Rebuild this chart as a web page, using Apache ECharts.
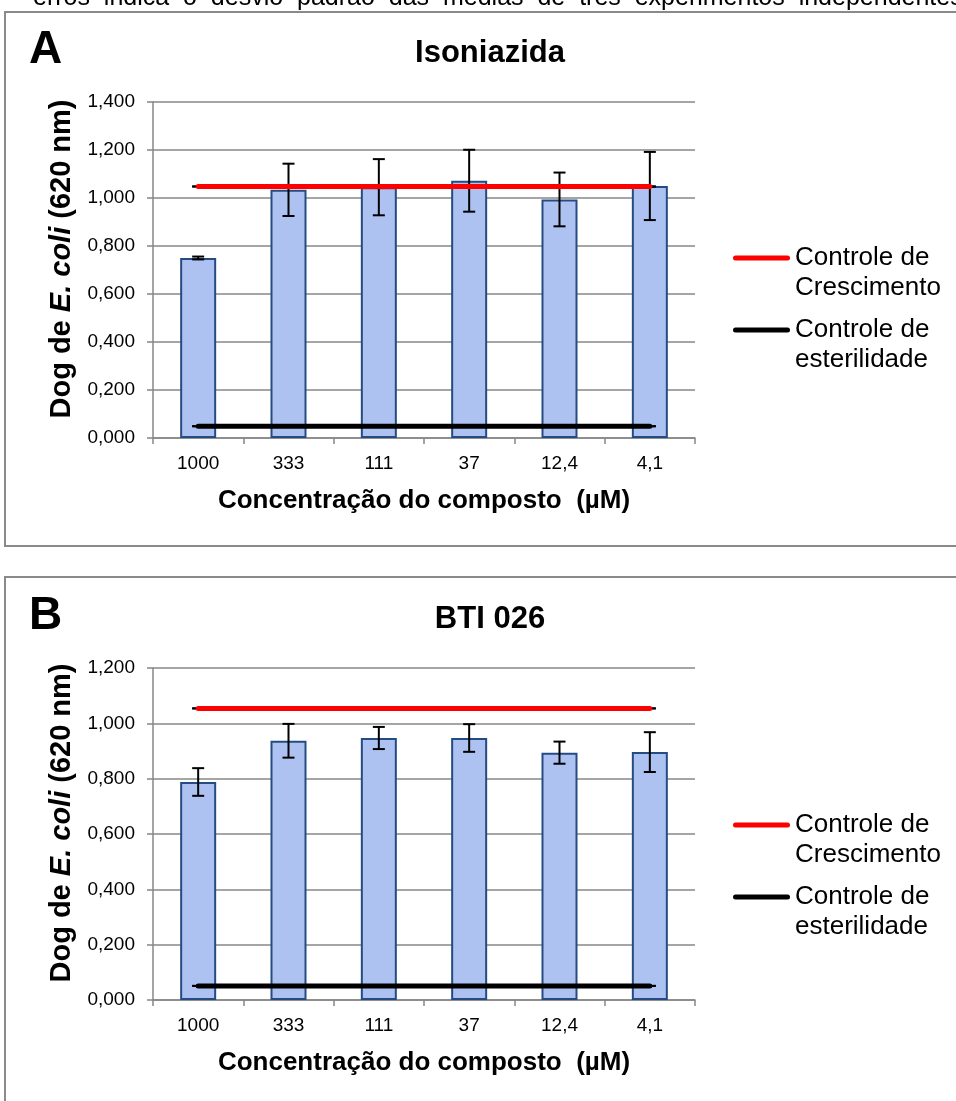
<!DOCTYPE html>
<html><head><meta charset="utf-8">
<script src="https://cdn.jsdelivr.net/npm/echarts@6/dist/echarts.min.js"></script>
<style>html,body{margin:0;padding:0;background:#fff}#c{width:956px;height:1101px}</style>
</head><body><div id="c"></div>
<script>
const FF = '"Liberation Sans", Arial, Helvetica, sans-serif';
const categories = ['1000', '333', '111', '37', '12,4', '4,1'];
const yMaxA = 1.4, yMaxB = 1.2, yStep = 0.2;
// Panel A - Isoniazida
const isoMeans = [0.750, 1.034, 1.045, 1.072, 0.994, 1.050];
const isoErr   = [0.006, 0.109, 0.117, 0.129, 0.112, 0.142];
const isoGrowth = [1.048, 1.048, 1.048, 1.048, 1.048, 1.048];
const isoSteril = [0.049, 0.049, 0.049, 0.049, 0.049, 0.049];
// Panel B - BTI 026
const btiMeans = [0.788, 0.937, 0.947, 0.947, 0.894, 0.896];
const btiErr   = [0.050, 0.061, 0.040, 0.050, 0.040, 0.072];
const btiGrowth = [1.054, 1.054, 1.054, 1.054, 1.054, 1.054];
const btiSteril = [0.051, 0.051, 0.051, 0.051, 0.051, 0.051];

const GRID = '#878787';
const chart = echarts.init(document.getElementById('c'), null, {renderer: 'canvas'});

function errRender(params, api) {
  const x = api.value(0), m = api.value(1), e = api.value(2);
  const hi = api.coord([x, m + e]);
  const lo = api.coord([x, m - e]);
  const w = 6;
  const st = {stroke: '#000', lineWidth: 2};
  return {type: 'group', children: [
    {type: 'line', shape: {x1: hi[0], y1: hi[1], x2: lo[0], y2: lo[1]}, style: st},
    {type: 'line', shape: {x1: hi[0] - w, y1: hi[1], x2: hi[0] + w, y2: hi[1]}, style: st},
    {type: 'line', shape: {x1: lo[0] - w, y1: lo[1], x2: lo[0] + w, y2: lo[1]}, style: st}
  ]};
}
function triples(means, errs) { return means.map((m, i) => [i, m, errs ? errs[i] : 0]); }

function xAxisFor(gi) {
  return {
    type: 'category', gridIndex: gi, data: categories,
    axisLine: {show: true, lineStyle: {color: GRID, width: 1.5}},
    axisTick: {show: true, length: 6, lineStyle: {color: GRID, width: 1.5}},
    axisLabel: {color: '#000', fontSize: 19, fontFamily: FF, margin: 16},
    splitLine: {show: false},
    name: 'Concentração do composto  (µM)', nameLocation: 'middle', nameGap: 50,
    nameTextStyle: {color: '#000', fontSize: 26, fontWeight: 'bold', fontFamily: FF}
  };
}
function yAxisFor(gi, max) {
  return {
    type: 'value', gridIndex: gi, min: 0, max: max, interval: yStep,
    axisLine: {show: true, lineStyle: {color: GRID, width: 1.5}},
    axisTick: {show: true, length: 6, lineStyle: {color: GRID, width: 1.5}},
    splitLine: {show: true, lineStyle: {color: GRID, width: 1.5}},
    axisLabel: {color: '#000', fontSize: 19, fontFamily: FF, margin: 18,
      formatter: v => v.toFixed(3).replace('.', ',')},
    name: '{b|Dog de }{i|E. coli}{b| (620 nm)}', nameLocation: 'middle', nameGap: 67,
    nameTextStyle: {color: '#000', fontFamily: FF, padding: [0, 0, 0, 22], rich: {
      b: {fontSize: 29, fontWeight: 'bold', fontFamily: FF, color: '#000'},
      i: {fontSize: 29, fontWeight: 'bold', fontStyle: 'italic', fontFamily: FF, color: '#000'}
    }}
  };
}
function seriesFor(gi, means, errs, growth, steril) {
  return [
    {type: 'bar', name: 'valores' + gi, xAxisIndex: gi, yAxisIndex: gi, data: means, barWidth: 36,
      itemStyle: {color: '#aec2f2', borderColor: '#244c82', borderWidth: 2}, z: 2, silent: true},
    {type: 'custom', xAxisIndex: gi, yAxisIndex: gi, renderItem: errRender,
      data: triples(means, errs), encode: {x: 0, y: 1}, z: 3, silent: true},
    {type: 'custom', xAxisIndex: gi, yAxisIndex: gi, renderItem: errRender,
      data: triples(growth, null), encode: {x: 0, y: 1}, z: 3, silent: true},
    {type: 'custom', xAxisIndex: gi, yAxisIndex: gi, renderItem: errRender,
      data: triples(steril, null), encode: {x: 0, y: 1}, z: 3, silent: true},
    {type: 'line', name: 'Controle de Crescimento', xAxisIndex: gi, yAxisIndex: gi, data: growth,
      symbol: 'none', color: '#ff0000', lineStyle: {color: '#ff0000', width: 5, cap: 'round'}, z: 4, silent: true},
    {type: 'line', name: 'Controle de esterilidade', xAxisIndex: gi, yAxisIndex: gi, data: steril,
      symbol: 'none', color: '#000000', lineStyle: {color: '#000000', width: 5, cap: 'round'}, z: 4, silent: true}
  ];
}
function legendFor(top) {
  return {
    left: 733, top: top, orient: 'vertical', padding: 0, itemGap: -18,
    itemWidth: 57, itemHeight: 5, selectedMode: false,
    icon: 'path://M2.5,0 H54.5 A2.5,2.5 0 0 1 54.5,5 H2.5 A2.5,2.5 0 0 1 2.5,0 Z',
    data: ['Controle de Crescimento', 'Controle de esterilidade'],
    formatter: n => ' \n' + n.replace('de ', 'de\n'),
    textStyle: {color: '#000', fontSize: 26, fontFamily: FF, lineHeight: 30}
  };
}
function txt(x, y, text, size, align) {
  return {type: 'text', x: x, y: y, z: 10, style: {text: text, fill: '#000', fontSize: size,
    fontWeight: 'bold', fontFamily: FF, align: align, verticalAlign: 'middle'}};
}

const option = {
  backgroundColor: '#fff',
  animation: false,
  grid: [
    {left: 153, top: 102, width: 542, height: 336, outerBoundsMode: 'none'},
    {left: 153, top: 668, width: 542, height: 332, outerBoundsMode: 'none'}
  ],
  xAxis: [xAxisFor(0), xAxisFor(1)],
  yAxis: [yAxisFor(0, yMaxA), yAxisFor(1, yMaxB)],
  legend: [legendFor(213), legendFor(780)],
  series: [].concat(
    seriesFor(0, isoMeans, isoErr, isoGrowth, isoSteril),
    seriesFor(1, btiMeans, btiErr, btiGrowth, btiSteril)),
  graphic: [
    {type: 'rect', shape: {x: 5, y: 12, width: 1000, height: 534}, style: {fill: 'none', stroke: '#8a8a8a', lineWidth: 2}, z: 0},
    {type: 'rect', shape: {x: 5, y: 577, width: 1000, height: 560}, style: {fill: 'none', stroke: '#8a8a8a', lineWidth: 2}, z: 0},
    {type: 'text', x: 33, y: 11, z: 10, style: {text: 'erros  indica  o  desvio  padrão  das  médias  de  três  experimentos  independentes',
      fill: '#000', fontSize: 25, fontFamily: FF, align: 'left', verticalAlign: 'bottom'}},
    txt(29, 50, 'A', 46, 'left'),
    txt(490, 53, 'Isoniazida', 31, 'center'),
    txt(29, 616, 'B', 46, 'left'),
    txt(490, 619, 'BTI 026', 31, 'center')
  ]
};
chart.setOption(option);
</script></body></html>
